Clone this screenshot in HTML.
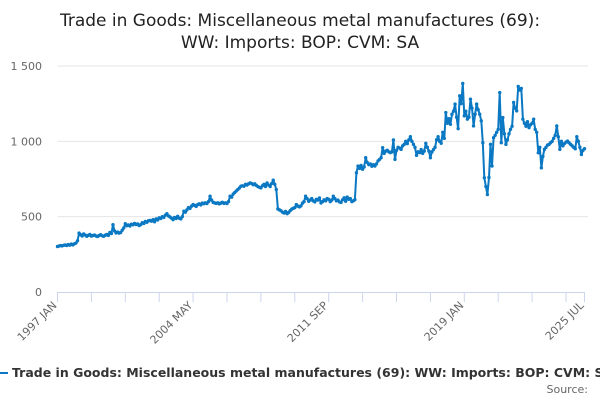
<!DOCTYPE html>
<html><head><meta charset="utf-8"><style>
body{margin:0;background:#fff;width:600px;height:400px;overflow:hidden;font-family:"DejaVu Sans","Liberation Sans",sans-serif}
</style></head><body>
<svg width="600" height="400" id="c" style="font-family:'DejaVu Sans','Liberation Sans',sans-serif">
<text x="300" y="26" text-anchor="middle" font-size="17" fill="#222">Trade in Goods: Miscellaneous metal manufactures (69):</text>
<text x="300" y="48" text-anchor="middle" font-size="17" fill="#222">WW: Imports: BOP: CVM: SA</text>
<g id="grid"></g><g id="xa"></g><g id="plot"></g>
<g>
<line x1="0" y1="373" x2="8" y2="373" stroke="#0a78c2" stroke-width="2"/>
<text x="12" y="377" font-size="12.5" font-weight="bold" fill="#333">Trade in Goods: Miscellaneous metal manufactures (69): WW: Imports: BOP: CVM: SA</text>
</g>
<text x="588" y="393" text-anchor="end" font-size="11" fill="#666">Source:</text>
</svg>
<script>
const yTicks=[0,500,1000,1500];
const yTickLabels=["0","500","1 000","1 500"];
const xLabels=["1997 JAN","2004 MAY","2011 SEP","2019 JAN","2025 JUL"];
const xLabelMonths=[0,88,176,264,342];
const values=[
302,305,308,306,310,312,309,315,311,318,313,320,
325,340,391,380,372,385,378,370,376,382,371,375,
378,372,368,375,380,373,370,377,382,376,395,388,
447,405,392,398,391,395,410,425,453,440,445,438,
450,446,455,448,452,441,447,460,455,468,463,472,
475,470,480,466,485,478,492,488,500,495,510,520,
505,498,490,480,495,488,502,490,485,500,536,530,
545,560,555,570,580,575,568,580,585,578,590,586,
592,587,600,636,610,595,591,588,592,585,590,595,
588,592,587,600,636,630,650,660,670,680,690,702,
705,702,715,710,718,724,720,712,718,708,700,695,
691,705,715,700,724,710,700,720,742,715,680,551,
545,540,530,524,535,520,528,540,550,555,560,580,
570,565,572,590,600,636,620,602,610,620,605,598,
615,610,624,591,600,612,605,620,615,600,610,636,
620,605,610,598,595,612,625,602,630,615,620,600,
605,613,791,836,820,840,815,830,891,860,845,850,
835,845,836,850,870,880,891,958,920,935,940,930,
925,930,1009,880,940,960,955,947,970,980,1000,985,
1010,1031,1000,980,960,907,930,925,945,920,935,987,
960,935,891,930,945,960,1010,1031,1000,987,1060,1020,
1191,1120,1150,1113,1180,1200,1247,1160,1084,1302,1250,1384,
1169,1200,1147,1160,1280,1220,1102,1180,1247,1210,1180,1136,
991,758,700,647,760,980,836,1024,1040,1060,1080,1324,
991,1158,1050,980,1010,1050,1080,1100,1258,1220,1202,1364,
1340,1351,1147,1120,1100,1130,1091,1110,1120,1147,1080,1060,
924,960,824,900,947,960,975,980,991,1000,1020,1040,
1102,1030,947,1000,970,985,995,1002,990,980,970,960,
951,1031,1000,960,913,940,951];
const NS="http://www.w3.org/2000/svg";
const X0=57.5,X1=584.5,Y0=292,Y1=66;
const n=values.length-1;
function xS(m){return X0+(X1-X0)*m/n;}
function yS(v){return Y0-(Y0-Y1)*v/1500;}
function mk(t,a,p){const e=document.createElementNS(NS,t);for(const k in a)e.setAttribute(k,a[k]);p.appendChild(e);return e;}
const grid=document.getElementById('grid'),xa=document.getElementById('xa'),plot=document.getElementById('plot');
yTicks.forEach((v,i)=>{
 if(v>0){const g=mk('line',{x1:X0,x2:588,y1:yS(v),y2:yS(v),stroke:'#e6e6e6'},grid);
 
 }
 const t=mk('text',{x:42,y:yS(v)+4,'text-anchor':'end','font-size':11,fill:'#666'},grid);
 t.textContent=yTickLabels[i];
 
 
});
const ax=mk('line',{x1:X0,x2:X1,y1:Y0+0.5,y2:Y0+0.5,stroke:'#ccd6eb'},xa);


const tickMs=[];for(let m=0;m<=n;m+=22)tickMs.push(m);tickMs.push(n);
tickMs.forEach(m=>{const t=mk('line',{x1:xS(m),x2:xS(m),y1:Y0,y2:Y0+10,stroke:'#ccd6eb'},xa);
 
 });
xLabels.forEach((l,i)=>{const x=xS(xLabelMonths[i]),y=Y0+14;
 const t=mk('text',{x:x,y:y,'text-anchor':'end','font-size':11,fill:'#666',transform:`rotate(-45 ${x} ${y})`},xa);
 t.textContent=l;
 
 });
const pl=mk('polyline',{points:values.map((v,i)=>xS(i).toFixed(1)+','+yS(v).toFixed(1)).join(' '),fill:'none',stroke:'#0a78c2','stroke-width':2,'stroke-linejoin':'round'},plot);


values.forEach((v,i)=>{const c=mk('circle',{cx:xS(i),cy:yS(v),r:1.7,fill:'#0a78c2'},plot);
 
 });
</script>
</body></html>
